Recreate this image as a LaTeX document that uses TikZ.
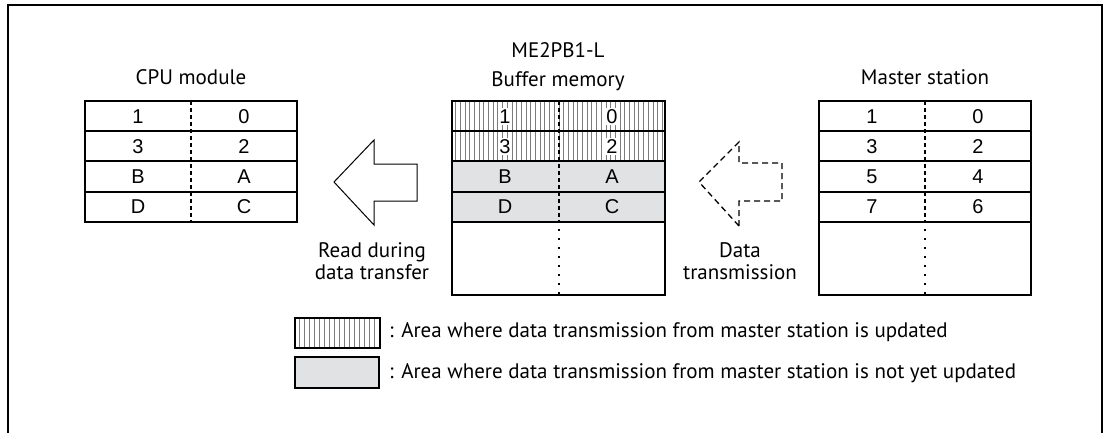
\documentclass[tikz,border=0pt]{standalone}
\usepackage{fontspec}
\setmainfont{PT Sans}
\newfontfamily\cellfont{Liberation Sans}
\definecolor{cellgray}{RGB}{225,226,228}
\definecolor{hatchc}{RGB}{125,125,125}
\tikzset{
  lbl/.style={font=\fontsize{21}{22}\selectfont, inner sep=0pt, align=center},
  legtext/.style={font=\fontsize{21}{22}\selectfont, inner sep=0pt, anchor=west},
  cell/.style={font=\cellfont\fontsize{20}{22}\selectfont, inner sep=1pt},
  hcell/.style={cell, fill=white, inner xsep=1.2pt, inner ysep=1.2pt},
  tframe/.style={line width=1.2pt},
  rowline/.style={line width=1.4pt},
  divdash/.style={line width=1.5pt, dash pattern=on 4pt off 3pt},
  divdot/.style={line width=1.6pt, dash pattern=on 1.6pt off 7.4pt},
  hatch/.style={hatchc, line width=0.7pt},
  bigarrow/.style={line width=1pt, line join=miter},
  dasharrow/.style={line width=1.3pt, dash pattern=on 6pt off 4pt},
}
\begin{document}
\begin{tikzpicture}[x=1pt,y=-1pt]
\useasboundingbox (0,0) rectangle (1105,433);
% outer frame (open at the bottom)
\draw[line width=2pt] (8,436) -- (8,5) -- (1102,5) -- (1102,436);

% ---------- CPU module ----------
\node[lbl] (cputitle) at (191,77) {CPU module};
\node[cell] (c1l) at (138,116.5) {1};
\node[cell] (c1r) at (244,116.5) {0};
\node[cell] (c2l) at (138,146.5) {3};
\node[cell] (c2r) at (244,146.5) {2};
\node[cell] (c3l) at (138,176.5) {B};
\node[cell] (c3r) at (244,176.5) {A};
\node[cell] (c4l) at (138,206.5) {D};
\node[cell] (c4r) at (244,206.5) {C};
\draw[divdash] (191,101) -- (191,222);
\foreach \y in {131,161,192} \draw[rowline] (85,\y) -- (297,\y);
\draw[tframe] (85,101) rectangle (297,222);

% ---------- Buffer memory ----------
\node[lbl] (bufid) at (558,50) {ME2PB1-L};
\node[lbl] (buftitle) at (558,81) {Buffer memory};
\fill[cellgray] (452,161) rectangle (665,222);
\foreach \x in {455.5,460.2,...,664} \draw[hatch] (\x,101) -- (\x,161);
\node[hcell] (b1l) at (505,116.5) {1};
\node[hcell] (b1r) at (612,116.5) {0};
\node[hcell] (b2l) at (505,146.5) {3};
\node[hcell] (b2r) at (612,146.5) {2};
\node[cell] (b3l) at (505,176.5) {B};
\node[cell] (b3r) at (612,176.5) {A};
\node[cell] (b4l) at (505,206.5) {D};
\node[cell] (b4r) at (612,206.5) {C};
\draw[divdash] (559,101) -- (559,222);
\draw[divdot] (559,229) -- (559,295);
\foreach \y in {131,161,192,222} \draw[rowline] (452,\y) -- (665,\y);
\draw[tframe] (452,101) rectangle (665,295);

% ---------- Master station ----------
\node[lbl] (mtitle) at (925,77) {Master station};
\node[cell] (m1l) at (872,116.5) {1};
\node[cell] (m1r) at (978,116.5) {0};
\node[cell] (m2l) at (872,146.5) {3};
\node[cell] (m2r) at (978,146.5) {2};
\node[cell] (m3l) at (872,176.5) {5};
\node[cell] (m3r) at (978,176.5) {4};
\node[cell] (m4l) at (872,206.5) {7};
\node[cell] (m4r) at (978,206.5) {6};
\draw[divdash] (925,101) -- (925,222);
\draw[divdot] (925,229) -- (925,295);
\foreach \y in {131,161,192,222} \draw[rowline] (819,\y) -- (1031,\y);
\draw[tframe] (819,101) rectangle (1031,295);

% ---------- arrows ----------
\draw[bigarrow] (334,182) -- (374,140) -- (374,164) -- (417,164) -- (417,201) -- (374,201) -- (374,225) -- cycle;
\node[lbl] (readlbl) at (372,261) {Read during\\data transfer};

\draw[dasharrow] (739,226) -- (739,201) -- (782,201) -- (782,163) -- (739,163) -- (739,142) -- (699,182) -- cycle;
\node[lbl] (txlbl) at (740,261) {Data\\transmission};

% ---------- legend ----------
\foreach \x in {299.5,304.5,...,378} \draw[hatch] (\x,318) -- (\x,348);
\draw[tframe] (295,318) rectangle (380,348);
\node[legtext] (leg1) at (389,332) {: Area where data transmission from master station is updated};
\fill[cellgray] (295,357) rectangle (379,388);
\draw[tframe] (295,357) rectangle (379,388);
\node[legtext] (leg2) at (389,373) {: Area where data transmission from master station is not yet updated};
\end{tikzpicture}
\end{document}
